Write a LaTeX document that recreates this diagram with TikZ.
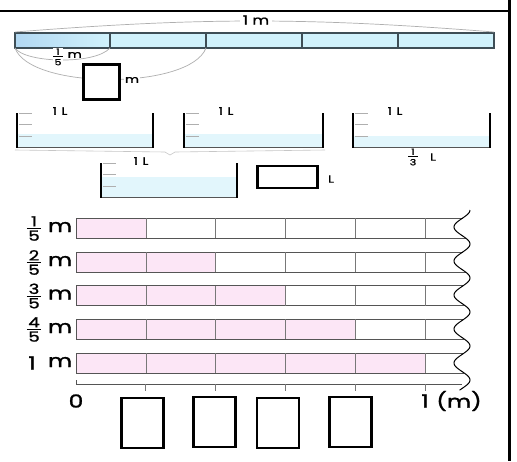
\documentclass[tikz,border=0pt]{standalone}
\usepackage{fontspec}
\usepackage{graphicx}
\setmainfont{Poppins}[FakeBold=1.2]
\definecolor{barcyan}{RGB}{208,242,252}
\definecolor{barblue}{RGB}{178,216,242}
\definecolor{water}{RGB}{226,246,252}
\definecolor{pinkfill}{RGB}{252,230,246}
\definecolor{edge}{RGB}{62,78,86}
\definecolor{guide}{RGB}{175,175,175}
\definecolor{barline}{RGB}{85,85,85}
\definecolor{divline}{RGB}{120,120,120}
\newcommand{\fr}[2]{\vbox{\halign{\hfil\kern1pt##\kern1pt\hfil\cr #1\cr\noalign{\kern1.6pt\hrule height0.8pt\kern1.8pt}#2\cr}}}
\newcommand{\stretchtxt}[1]{\scalebox{1.3}[1]{#1}}
\newcommand{\drawbeaker}[6]{%
  % #1 left, #2 right, #3 top, #4 bottom, #5 water top, #6 name
  \fill[water] (#1,#5) rectangle (#2,#4);
  \foreach \t in {0.5,11.5,23} \draw[guide,line width=0.6pt] (#1+2,#3+\t) -- (#1+15,#3+\t);
  \draw[line width=0.9pt,barline] (#1,#4) -- (#2,#4);
  \draw[wall] (#1,#3) -- (#1,#4+0.5);
  \draw[wall] (#2,#3) -- (#2,#4+0.5);
  \coordinate (#6) at ({(#1+#2)/2},#3);
}
\begin{document}
\begin{tikzpicture}[x=1pt,y=-1pt,
  ansbox/.style={draw=black,line width=2.6pt,fill=white,inner sep=0pt},
  wall/.style={line width=2.2pt,black},
  lbl/.style={inner sep=0.5pt,font=\fontsize{18}{19}\selectfont},
  frlbl/.style={inner sep=0pt,font=\fontsize{14}{15}\selectfont},
  small/.style={inner sep=0.5pt,font=\fontsize{10.5}{11}\selectfont},
  declare function={wx(\y)=462+8*cos(10.5882*(\y-210));}]
\useasboundingbox (0,0) rectangle (517,461);
\fill[white] (0,0) rectangle (517,461);

% frame
\draw[line width=2.5pt] (0,11) -- (511,11);
\draw[line width=3pt] (509.5,0) -- (509.5,461);

% top bar
\fill[barcyan] (15,33) rectangle (494,48);
\shade[left color=barblue,right color=barcyan] (15,33) rectangle (110,48);
\draw[edge,line width=1.1pt] (15,33) rectangle (494,48);
\foreach \x in {110,206,302,398} \draw[edge,line width=1.1pt] (\x,33) -- (\x,48);
\coordinate (tl) at (15,32);
\coordinate (tr) at (494,32);
\coordinate (bl) at (15,48);
\coordinate (b1) at (110,48);
\coordinate (b2) at (206,48);
\draw[guide,line width=0.7pt] (tl) to[bend left=4.5] (tr);
\node[fill=white,inner sep=3pt,font=\fontsize{12.5}{13}\selectfont] (onem) at (256,20) {\stretchtxt{1 m}};
\draw[guide,line width=0.7pt] (bl) .. controls (25,63) and (95,65) .. (b1);
\draw[guide,line width=0.7pt] (bl) .. controls (30,90) and (190,90) .. (b2);
\node[fill=white,inner sep=0.3pt,font=\fontsize{8.5}{9}\selectfont] (fifth) at (58,57) {\stretchtxt{\fr{1}{5}}};
\node[small,anchor=west] (fifthm) at (67,55) {\stretchtxt{m}};
\node[ansbox,minimum width=36pt,minimum height=35pt] (q1) at (101.5,82) {};
\node[fill=white,small] (q1m) at (132,80) {\stretchtxt{m}};

% beakers
\drawbeaker{17}{153}{113}{147}{134}{k1}
\drawbeaker{184}{323}{113}{147}{134}{k2}
\drawbeaker{353}{490}{113}{147}{136}{k3}
\drawbeaker{101}{237}{163}{197}{177}{k4}
\node[small] (l1) at (60,111) {\stretchtxt{1\,\,L}};
\node[small] (l2) at (226,111) {\stretchtxt{1\,\,L}};
\node[small] (l3) at (395,111) {\stretchtxt{1\,\,L}};
\node[small] (l4) at (141,161) {\stretchtxt{1\,\,L}};
\node[inner sep=0.5pt,font=\fontsize{8.5}{9}\selectfont] (third) at (413,157) {\stretchtxt{\fr{1}{3}}};
\node[small] (thirdL) at (433,157) {\stretchtxt{L}};
\draw[guide!70,line width=0.6pt] (15,150) -- (165,152) -- (170,155) -- (175,152) -- (325,150);
\node[ansbox,minimum width=60pt,minimum height=22pt] (q2) at (287.5,177) {};
\node[small] (q2L) at (331,179) {\stretchtxt{L}};

% bars
\foreach \r/\t in {1/218,2/252,3/285.5,4/319,5/353}{
  \fill[pinkfill] (76,\t) rectangle ({76+69.8*\r},\t+20);
  \draw[barline,line width=0.9pt] (76,\t) -- ({wx(\t)},\t);
  \draw[barline,line width=0.9pt] (76,\t+20) -- ({wx(\t+20)},\t+20);
  \draw[barline,line width=0.9pt] (76,\t) -- (76,\t+20);
  \foreach \k in {1,...,5} \draw[divline,line width=0.6pt] ({76+69.8*\k},\t) -- ({76+69.8*\k},\t+20);
}
\draw[black,line width=1pt] plot[domain=0:5.3,samples=160,smooth] ({462+8*cos(360*\x)},{210+34*\x});

% labels left
\node[frlbl] (f1) at (34,228.5) {\stretchtxt{\fr{1}{5}}};
\node[frlbl] (f2) at (34,262.5) {\stretchtxt{\fr{2}{5}}};
\node[frlbl] (f3) at (34,296) {\stretchtxt{\fr{3}{5}}};
\node[frlbl] (f4) at (34,329.5) {\stretchtxt{\fr{4}{5}}};
\node[lbl] (f5) at (32,363) {\stretchtxt{1}};
\foreach \t/\n in {228/m1,262/m2,295.5/m3,329/m4,363/m5} \node[lbl] (\n) at (60,\t-1) {\stretchtxt{m}};

% axis
\coordinate (a0) at (76,384);
\coordinate (a1) at (462,384);
\draw[barline,line width=0.9pt] (76,380) -- (a0) -- (a1);
\foreach \k in {1,...,5} \draw[divline,line width=0.8pt] ({76+69.8*\k},384) -- ({76+69.8*\k},391);
\node[lbl] (zero) at (76,401) {\stretchtxt{0}};
\node[lbl] (one) at (425,401) {\stretchtxt{1}};
\node[lbl] (unit) at (459,401) {\stretchtxt{(m)}};

% answer boxes
\node[ansbox,minimum width=42pt,minimum height=50pt] (s1) at (142.5,423) {};
\node[ansbox,minimum width=42pt,minimum height=50pt] (s2) at (214.5,422) {};
\node[ansbox,minimum width=42pt,minimum height=50pt] (s3) at (278,423) {};
\node[ansbox,minimum width=42pt,minimum height=50pt] (s4) at (350.5,422) {};
\end{tikzpicture}
\end{document}
